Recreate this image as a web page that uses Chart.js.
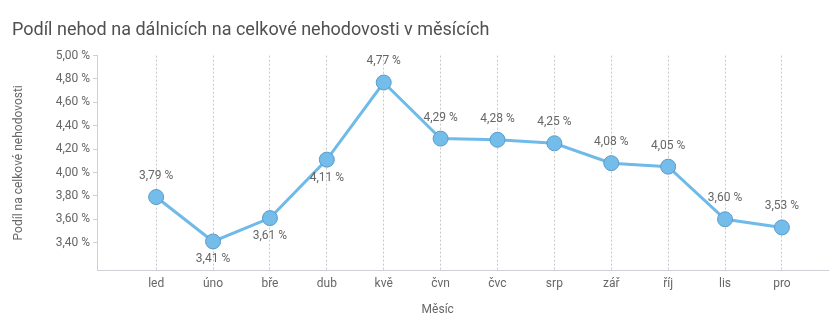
<!DOCTYPE html>
<html lang="cs">
<head>
<meta charset="utf-8">
<title>Podíl nehod na dálnicích</title>
<script src="https://cdn.jsdelivr.net/npm/chart.js@4.4.1/dist/chart.umd.min.js"></script>
<style>
  html, body { margin: 0; padding: 0; background: #fff; }
  #wrap { width: 829px; height: 322px; }
</style>
</head>
<body>
<div id="wrap"><canvas id="accidentShareChart" width="829" height="322"></canvas></div>
<script>
const months = ['led', 'úno', 'bře', 'dub', 'kvě', 'čvn', 'čvc', 'srp', 'zář', 'říj', 'lis', 'pro'];
const shareValues = [3.79, 3.41, 3.61, 4.11, 4.77, 4.29, 4.28, 4.25, 4.08, 4.05, 3.60, 3.53];
const yTickValues = [3.4, 3.6, 3.8, 4.0, 4.2, 4.4, 4.6, 4.8, 5.0];

const chartTitle = 'Podíl nehod na dálnicích na celkové nehodovosti v měsících';
const yAxisTitle = 'Podíl na celkové nehodovosti';
const xAxisTitle = 'Měsíc';

const textColor = '#666666';
const lineColor = '#6fbae8';

Chart.defaults.font.family = 'Roboto, "Open Sans", sans-serif';
Chart.defaults.font.size = 12;
Chart.defaults.color = textColor;

// Czech number format: 4,77 %
const fmtPct = v => v.toFixed(2).replace('.', ',') + ' %';

// value labels: under the point when the line climbs to the next month, otherwise above
const valueLabels = {
    id: 'valueLabels',
    afterDatasetsDraw(chart) {
        const ctx = chart.ctx;
        const meta = chart.getDatasetMeta(0);
        ctx.save();
        ctx.font = '12px Roboto, sans-serif';
        ctx.fillStyle = textColor;
        ctx.textAlign = 'center';
        ctx.textBaseline = 'middle';
        meta.data.forEach((pt, i) => {
            const v = shareValues[i];
            const next = shareValues[i + 1];
            const below = next !== undefined && next > v;
            ctx.fillText(fmtPct(v), pt.x, below ? pt.y + 18 : pt.y - 21);
        });
        ctx.restore();
    }
};

// x axis caption, drawn under the middle of the months
const xCaption = {
    id: 'xCaption',
    afterDraw(chart) {
        const ctx = chart.ctx;
        const x = chart.scales.x;
        ctx.save();
        ctx.font = '12px Roboto, sans-serif';
        ctx.fillStyle = textColor;
        ctx.textAlign = 'center';
        ctx.textBaseline = 'middle';
        ctx.fillText(xAxisTitle, x.getPixelForValue(4.95), 310);
        ctx.restore();
    }
};

const ctx = document.getElementById('accidentShareChart');

new Chart(ctx, {
    type: 'line',
    data: {
        datasets: [{
            label: yAxisTitle,
            data: shareValues.map((v, i) => ({ x: i, y: v })),
            borderColor: lineColor,
            borderWidth: 3,
            tension: 0,
            pointRadius: 7.5,
            pointBackgroundColor: '#74bce9',
            pointBorderColor: '#5a9ccb',
            pointBorderWidth: 1
        }]
    },
    options: {
        responsive: false,
        animation: false,
        layout: {
            autoPadding: false,
            padding: { left: 12, right: 1, top: 0, bottom: 0 }
        },
        plugins: {
            legend: { display: false },
            tooltip: { enabled: false },
            title: {
                display: true,
                text: chartTitle,
                align: 'start',
                color: '#505050',
                font: { size: 18, weight: 'normal' },
                padding: { top: 20, bottom: 14 }
            }
        },
        scales: {
            x: {
                type: 'linear',
                min: -1.04,
                max: 11.81,
                afterBuildTicks: scale => {
                    scale.ticks = months.map((m, i) => ({ value: i }));
                },
                afterFit: scale => {
                    scale.height = 52;
                    scale.paddingLeft = 0;
                    scale.paddingRight = 0;
                },
                ticks: {
                    padding: 7,
                    color: textColor,
                    callback: v => months[v]
                },
                grid: {
                    color: '#c8c8c8',
                    drawTicks: false
                },
                border: { color: '#cfcfd6', width: 1, dash: [2, 2] }
            },
            y: {
                min: 3.166,
                max: 5.0,
                afterBuildTicks: scale => {
                    scale.ticks = yTickValues.map(v => ({ value: v }));
                },
                afterFit: scale => { scale.width = 85; },
                title: {
                    display: true,
                    text: yAxisTitle,
                    color: textColor,
                    font: { size: 12 },
                    padding: { top: 0, bottom: 0 }
                },
                ticks: {
                    padding: 3,
                    color: textColor,
                    callback: v => fmtPct(v)
                },
                grid: {
                    drawOnChartArea: false,
                    tickLength: 4,
                    color: '#cfcfd6'
                },
                border: { color: '#cfcfd6', width: 1 }
            }
        }
    },
    plugins: [valueLabels, xCaption]
});
</script>
</body>
</html>
